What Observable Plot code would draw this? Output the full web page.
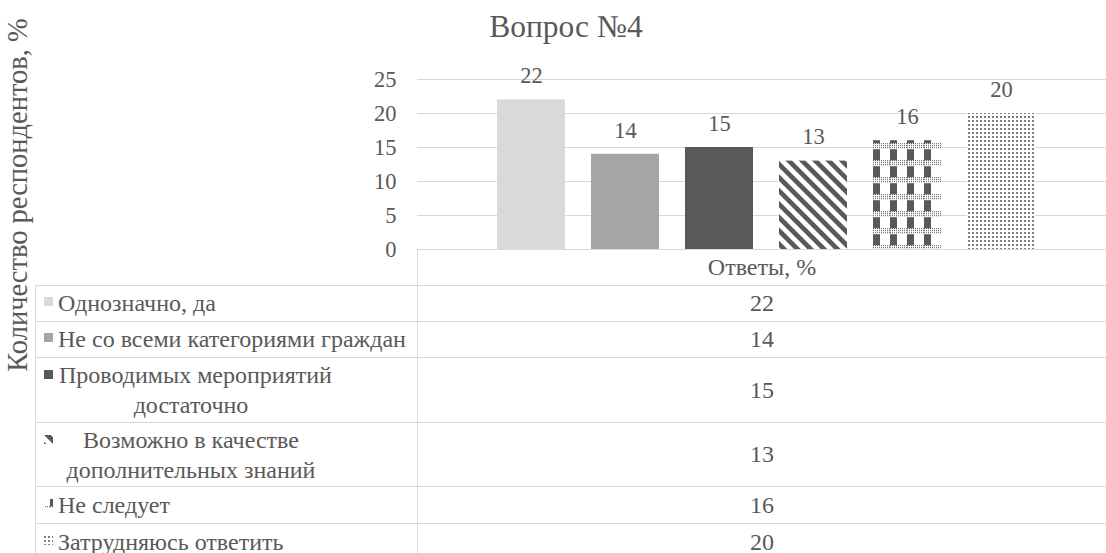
<!DOCTYPE html>
<html>
<head>
<meta charset="utf-8">
<script src="https://cdn.jsdelivr.net/npm/d3@7"></script>
<script src="https://cdn.jsdelivr.net/npm/@observablehq/plot@0.6"></script>
<style>
  html, body { margin: 0; padding: 0; background: #fff; font-family: 'Liberation Serif', serif; }
  #wrap, #wrap * { font-family: 'Liberation Serif', serif; }
  #wrap { position: relative; width: 1106px; height: 553px; overflow: hidden; background: #fff; color: #595959; }
  #wrap > svg { position: absolute; left: 0; top: 0; }
  #title { position: absolute; left: 566px; top: 11px; transform: translateX(-50%);
    font-size: 31.5px; line-height: 31px; white-space: nowrap; }
  #ytitle { position: absolute; left: 18px; top: 195px; transform: translate(-50%, -50%) rotate(-90deg);
    font-size: 28.5px; line-height: 28px; white-space: nowrap; }
  #table { position: absolute; left: 35px; top: 249px; display: grid; font-size: 24px; }
  #table .cell { box-sizing: border-box; border-top: 1px solid #d9d9d9; border-left: 1px solid #d9d9d9;
    display: flex; align-items: center; position: relative; }
  #table .cell.blank { border: none; }
  #table .val { justify-content: center; }
  #table .lab { padding-left: 8px; }
  #table .lab .multi { position: relative; width: 264px; margin-left: 15px; text-align: center; white-space: pre; line-height: 30px; }
  #table .lab .multi .mk { position: absolute; left: -15px; top: 10px; }
  #table .mk { display: inline-block; width: 9px; height: 9px; vertical-align: middle; margin-right: 5px; position: relative; top: -2px; }
  #table .mk svg { display: block; }
</style>
</head>
<body>
<div id="wrap"></div>
<script>
// ---- data ----
const chartTitle = "Вопрос №4";
const yTitle = "Количество респондентов, %";
const categoryLabel = "Ответы, %";
const series = [
  "Однозначно, да",
  "Не со всеми категориями граждан",
  "Проводимых мероприятий\nдостаточно",
  "Возможно в качестве\nдополнительных знаний",
  "Не следует",
  "Затрудняюсь ответить"
];
const values = [22, 14, 15, 13, 16, 20];
const yTicks = [0, 5, 10, 15, 20, 25];
const fills = ["#d9d9d9", "#a5a5a5", "#595959", "url(#p-diag)", "url(#p-plaid)", "url(#p-dots)"];

const data = series.map((s, i) => ({series: s, value: values[i], fill: fills[i]}));
const font = "'Liberation Serif', serif";

const chart = Plot.plot({
  width: 1106,
  height: 264,
  marginLeft: 417,
  marginRight: 0,
  marginTop: 79,
  marginBottom: 15,
  style: {fontFamily: font, fontSize: "22px", color: "#595959", background: "transparent"},
  x: {type: "band", domain: series, paddingInner: 0.28, paddingOuter: 0.785, align: 0.527, axis: null},
  y: {domain: [0, 25], axis: null},
  color: {type: "identity"},
  marks: [
    Plot.ruleY(yTicks, {stroke: "#d9d9d9", strokeWidth: 1, strokeOpacity: 1}),
    Plot.barY(data, {x: "series", y: "value", fill: "fill"}),
    Plot.axisY({ticks: yTicks, tickSize: 0, tickPadding: 21, fontSize: 22.5, label: null, tickFormat: d => String(d)}),
    Plot.text(data, {x: "series", y: "value", text: d => String(d.value), dy: -24, fontSize: 22.5, fill: "#595959"})
  ]
});

const wrap = document.getElementById("wrap");
wrap.appendChild(chart);

// patterns (aligned to bars via the scales)
const xs = chart.scale("x");
const ys = chart.scale("y");
const svgNS = "http://www.w3.org/2000/svg";
function addPatterns(svg, ox, oy) {
  const defs = d3.select(svg).insert("defs", ":first-child");
  const diag = defs.append("pattern").attr("id", "p-diag").attr("patternUnits", "userSpaceOnUse")
    .attr("width", 9.4).attr("height", 9.4).attr("patternTransform", "rotate(-45)");
  diag.append("rect").attr("width", 9.4).attr("height", 9.4).attr("fill", "#fff");
  diag.append("rect").attr("width", 4.7).attr("height", 9.4).attr("fill", "#595959");

  const fine = defs.append("pattern").attr("id", "p-fine").attr("patternUnits", "userSpaceOnUse")
    .attr("width", 2).attr("height", 2);
  fine.append("rect").attr("width", 2).attr("height", 2).attr("fill", "#fff");
  fine.append("rect").attr("width", 1).attr("height", 1).attr("fill", "#595959");

  const plaid = defs.append("pattern").attr("id", "p-plaid").attr("patternUnits", "userSpaceOnUse")
    .attr("width", 17).attr("height", 17).attr("x", ox).attr("y", oy);
  plaid.append("rect").attr("width", 17).attr("height", 17).attr("fill", "#fff");
  plaid.append("rect").attr("width", 7).attr("height", 17).attr("fill", "#595959");
  plaid.append("rect").attr("width", 17).attr("height", 6).attr("fill", "url(#p-fine)");

  const dots = defs.append("pattern").attr("id", "p-dots").attr("patternUnits", "userSpaceOnUse")
    .attr("width", 4).attr("height", 4);
  dots.append("rect").attr("width", 4).attr("height", 4).attr("fill", "#fff");
  dots.append("rect").attr("width", 2).attr("height", 2).attr("fill", "#7f7f7f");
}
addPatterns(chart, xs.apply(series[4]), ys.apply(values[4]) + 3);

// title & y title
const t = document.createElement("div"); t.id = "title"; t.textContent = chartTitle; wrap.appendChild(t);
const yt = document.createElement("div"); yt.id = "ytitle"; yt.textContent = yTitle; wrap.appendChild(yt);

// data table
const rowHeights = [36, 36, 36, 65, 64, 37, 37];
const table = document.createElement("div");
table.id = "table";
table.style.gridTemplateColumns = (417 - 35) + "px " + (1106 - 417) + "px";
table.style.gridTemplateRows = rowHeights.map(h => h + "px").join(" ");
function cell(cls) { const d = document.createElement("div"); d.className = "cell " + cls; table.appendChild(d); return d; }
cell("blank");
cell("val").textContent = categoryLabel;
series.forEach((s, i) => {
  const lab = cell("lab");
  const mk = `<span class="mk"><svg width="9" height="9" xmlns="${svgNS}"><rect width="9" height="9" fill="${fills[i]}"/></svg></span>`;
  if (s.includes("\n")) {
    const m = document.createElement("div");
    m.className = "multi";
    m.innerHTML = mk;
    m.appendChild(document.createTextNode(s));
    lab.appendChild(m);
  } else {
    lab.innerHTML = mk;
    lab.appendChild(document.createTextNode(s));
  }
  cell("val").textContent = String(values[i]);
});
wrap.appendChild(table);
</script>
</body>
</html>
